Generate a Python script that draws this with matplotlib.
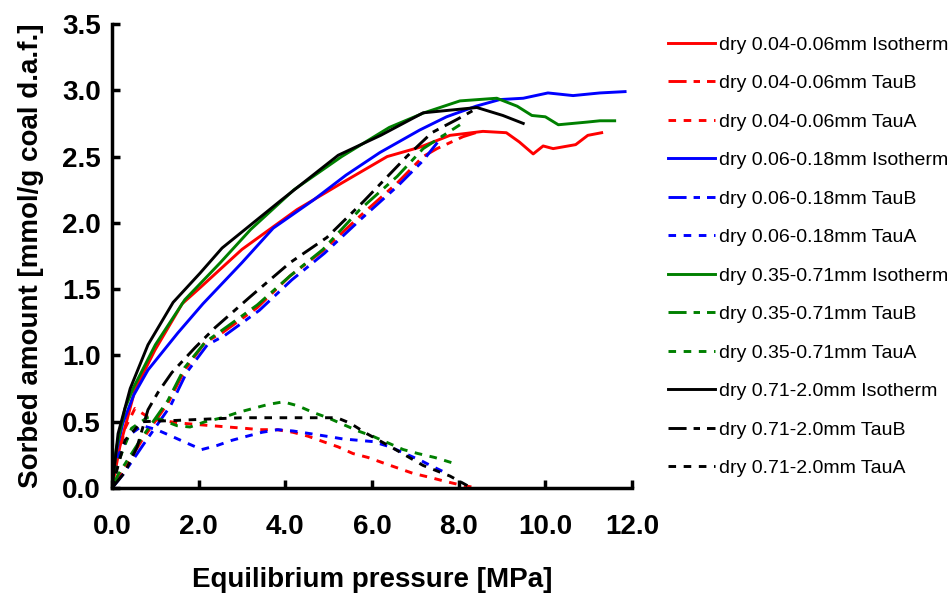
import numpy as np
import matplotlib.pyplot as plt

plt.rcParams['font.family'] = ['Liberation Sans', 'DejaVu Sans']

# isotherms
iso_red_x = [0, 0.18, 0.53, 0.99, 1.62, 2.03, 3.0, 4.27, 5.3, 6.35, 7.1, 7.8, 8.56, 9.1, 9.4, 9.72, 9.95, 10.18, 10.7, 10.98, 11.3]
iso_red_y = [0, 0.31, 0.74, 1.04, 1.39, 1.51, 1.80, 2.10, 2.30, 2.50, 2.57, 2.66, 2.69, 2.68, 2.61, 2.52, 2.58, 2.56, 2.59, 2.66, 2.68]
iso_blue_x = [0, 0.07, 0.25, 0.5, 0.83, 1.52, 2.1, 3.0, 3.72, 4.64, 5.4, 6.18, 7.1, 7.72, 8.4, 8.95, 9.49, 10.06, 10.64, 11.26, 11.84]
iso_blue_y = [0, 0.23, 0.49, 0.70, 0.89, 1.17, 1.39, 1.70, 1.96, 2.17, 2.36, 2.53, 2.70, 2.80, 2.88, 2.93, 2.94, 2.98, 2.96, 2.98, 2.99]
iso_green_x = [0, 0.1, 0.3, 0.5, 1.0, 1.68, 2.5, 3.2, 4.2, 5.3, 6.4, 7.2, 8.03, 8.88, 9.35, 9.69, 10.0, 10.3, 10.96, 11.26, 11.6]
iso_green_y = [0, 0.30, 0.60, 0.76, 1.08, 1.42, 1.70, 1.95, 2.25, 2.50, 2.72, 2.83, 2.92, 2.94, 2.88, 2.81, 2.80, 2.74, 2.76, 2.77, 2.77]
iso_black_x = [0, 0.14, 0.42, 0.83, 1.41, 2.03, 2.54, 3.9, 5.22, 6.2, 7.18, 8.42, 9.02, 9.49]
iso_black_y = [0, 0.41, 0.75, 1.08, 1.40, 1.62, 1.81, 2.17, 2.51, 2.66, 2.83, 2.87, 2.81, 2.75]

# TauB
taub_red_x = [0, 0.2, 0.69, 1.29, 1.68, 2.15, 2.54, 3.35, 4.11, 4.87, 5.72, 6.58, 7.18, 7.5, 8.1, 8.49]
taub_red_y = [0, 0.10, 0.36, 0.64, 0.89, 1.10, 1.17, 1.36, 1.60, 1.79, 2.05, 2.30, 2.50, 2.56, 2.65, 2.69]
taub_blue_x = [0, 0.25, 0.75, 1.35, 1.72, 2.2, 2.6, 3.4, 4.15, 4.9, 5.75, 6.6, 7.18, 7.64]
taub_blue_y = [0, 0.10, 0.34, 0.62, 0.87, 1.08, 1.15, 1.34, 1.57, 1.77, 2.03, 2.28, 2.47, 2.66]
taub_green_x = [0, 0.14, 0.69, 1.29, 1.68, 2.15, 2.54, 3.35, 4.11, 4.87, 5.72, 6.58, 7.18, 8.03]
taub_green_y = [0, 0.10, 0.38, 0.66, 0.91, 1.10, 1.19, 1.38, 1.60, 1.80, 2.10, 2.35, 2.56, 2.74]
taub_black_x = [0, 0.3, 0.58, 0.83, 1.06, 1.38, 1.92, 2.38, 3.18, 4.11, 4.96, 5.8, 6.8, 7.38, 7.96, 8.4]
taub_black_y = [0, 0.12, 0.31, 0.59, 0.72, 0.87, 1.06, 1.21, 1.44, 1.70, 1.89, 2.16, 2.50, 2.68, 2.78, 2.86]

# TauA
taua_red_x = [0, 0.12, 0.3, 0.53, 0.9, 1.57, 1.92, 2.3, 2.68, 3.07, 3.42, 3.8, 4.18, 4.53, 4.87, 5.22, 5.56, 5.91, 6.25, 6.6, 6.95, 7.34, 7.69, 8.08, 8.45]
taua_red_y = [0, 0.20, 0.45, 0.60, 0.52, 0.49, 0.48, 0.47, 0.46, 0.45, 0.44, 0.44, 0.42, 0.39, 0.35, 0.31, 0.26, 0.23, 0.19, 0.15, 0.11, 0.08, 0.05, 0.02, 0.0]
taua_blue_x = [0, 0.15, 0.4, 0.7, 1.03, 1.38, 1.72, 2.07, 2.42, 2.77, 3.11, 3.46, 3.83, 4.18, 4.57, 4.96, 5.33, 5.68, 6.02, 6.42, 6.76, 7.11, 7.41, 7.73]
taua_blue_y = [0, 0.25, 0.40, 0.47, 0.44, 0.39, 0.34, 0.29, 0.32, 0.36, 0.39, 0.42, 0.44, 0.43, 0.41, 0.39, 0.37, 0.36, 0.35, 0.31, 0.26, 0.21, 0.16, 0.11]
taua_green_x = [0, 0.15, 0.45, 0.81, 1.1, 1.5, 1.8, 2.15, 2.54, 2.91, 3.6, 3.95, 4.29, 4.64, 4.98, 5.33, 5.68, 6.02, 6.37, 6.72, 7.06, 7.45, 7.85]
taua_green_y = [0, 0.20, 0.45, 0.53, 0.52, 0.47, 0.46, 0.50, 0.53, 0.57, 0.63, 0.65, 0.62, 0.57, 0.53, 0.48, 0.43, 0.39, 0.34, 0.29, 0.26, 0.23, 0.19]
taua_black_x = [0, 0.3, 0.69, 1.5, 2.2, 3.0, 4.0, 5.19, 5.49, 5.88, 6.49, 7.18, 7.8, 8.3]
taua_black_y = [0, 0.36, 0.50, 0.51, 0.52, 0.53, 0.53, 0.53, 0.49, 0.41, 0.30, 0.17, 0.09, 0.0]

sizes = ["0.04-0.06mm", "0.06-0.18mm", "0.35-0.71mm", "0.71-2.0mm"]
colors = ["#ff0000", "#0000ff", "#008000", "#000000"]

iso = [(iso_red_x, iso_red_y), (iso_blue_x, iso_blue_y), (iso_green_x, iso_green_y), (iso_black_x, iso_black_y)]
taub = [(taub_red_x, taub_red_y), (taub_blue_x, taub_blue_y), (taub_green_x, taub_green_y), (taub_black_x, taub_black_y)]
taua = [(taua_red_x, taua_red_y), (taua_blue_x, taua_blue_y), (taua_green_x, taua_green_y), (taua_black_x, taua_black_y)]

fig = plt.figure(figsize=(9.53, 5.93), dpi=100)
ax = fig.add_axes([112/953, 1 - 488/593, 520/953, 464/593])

lw = 2.1
for i in range(4):
    ax.plot(*iso[i], color=colors[i], lw=lw, label="dry " + sizes[i] + " Isotherm")
    ax.plot(*taub[i], color=colors[i], lw=lw, linestyle=(0, (6.2, 2.4, 2.2, 2.4)),
            label="dry " + sizes[i] + " TauB")
    ax.plot(*taua[i], color=colors[i], lw=lw, linestyle=(0, (2.6, 2.6)),
            label="dry " + sizes[i] + " TauA")

ax.set_xlim(0, 12)
ax.set_ylim(0, 3.5)
ax.set_xticks(np.arange(0, 12.1, 2))
ax.set_yticks(np.arange(0, 3.51, 0.5))
ax.xaxis.set_major_formatter(plt.FormatStrFormatter('%.1f'))
ax.yaxis.set_major_formatter(plt.FormatStrFormatter('%.1f'))
for s in ['top', 'right']:
    ax.spines[s].set_visible(False)
for s in ['left', 'bottom']:
    ax.spines[s].set_linewidth(2.5)
ax.tick_params(direction='in', length=6, width=2.5, labelsize=20)
ax.tick_params(axis='x', pad=19)
ax.tick_params(axis='y', pad=8)
for lab in ax.get_xticklabels() + ax.get_yticklabels():
    lab.set_fontweight('bold')

ax.set_xlabel("Equilibrium pressure [MPa]", fontsize=20, fontweight='bold', labelpad=19)
ax.set_ylabel("Sorbed amount [mmol/g coal d.a.f.]", fontsize=20, fontweight='bold', labelpad=13)

fig.legend(loc='upper left', bbox_to_anchor=(668/953, 1 - 36/593), frameon=False,
           fontsize=14, handlelength=2.4, handletextpad=0.2, labelspacing=1.075,
           borderpad=0, borderaxespad=0)

fig.savefig("out.png", dpi=100)
